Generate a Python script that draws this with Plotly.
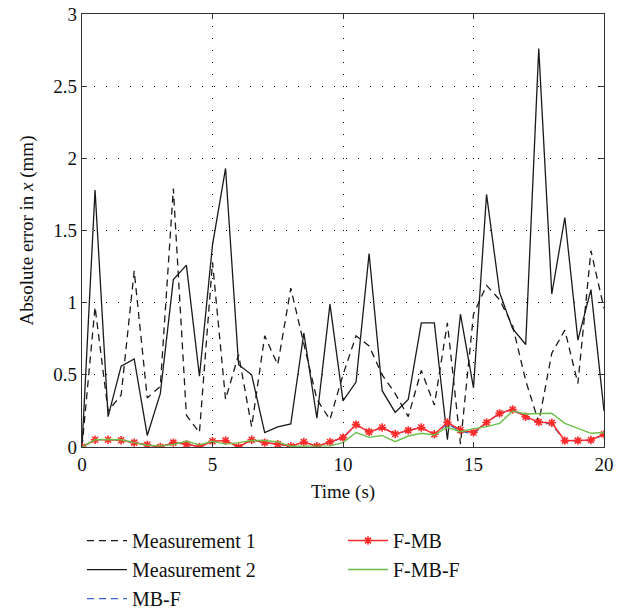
import plotly.graph_objects as go

time_s = [0, 0.5, 1, 1.5, 2, 2.5, 3, 3.5, 4, 4.5, 5, 5.5, 6, 6.5, 7, 7.5, 8, 8.5, 9, 9.5,
          10, 10.5, 11, 11.5, 12, 12.5, 13, 13.5, 14, 14.5, 15, 15.5, 16, 16.5, 17, 17.5,
          18, 18.5, 19, 19.5, 20]

measurement1 = [0, 0.97, 0.25, 0.36, 1.22, 0.34, 0.42, 1.79, 0.22, 0.10, 1.28, 0.33, 0.64, 0.14,
                0.77, 0.57, 1.10, 0.72, 0.33, 0.19, 0.50, 0.77, 0.70, 0.50, 0.37, 0.21, 0.53, 0.29,
                0.86, 0.02, 0.92, 1.12, 1.02, 0.84, 0.46, 0.17, 0.65, 0.81, 0.44, 1.36, 0.96]

measurement2 = [0, 1.78, 0.21, 0.56, 0.61, 0.08, 0.37, 1.16, 1.26, 0.49, 1.40, 1.93, 0.57, 0.50,
                0.10, 0.14, 0.16, 0.79, 0.20, 0.99, 0.32, 0.45, 1.34, 0.39, 0.24, 0.33, 0.86, 0.86,
                0.05, 0.92, 0.41, 1.75, 1.07, 0.82, 0.71, 2.76, 1.06, 1.59, 0.74, 1.09, 0.25]

f_mb = [0, 0.05, 0.05, 0.047, 0.03, 0.015, 0.0, 0.03, 0.02, 0.0, 0.04, 0.045, 0.0, 0.05,
        0.03, 0.02, 0.005, 0.035, 0.005, 0.035, 0.065, 0.155, 0.105, 0.135, 0.09, 0.115, 0.135,
        0.088, 0.17, 0.118, 0.10, 0.17, 0.233, 0.26, 0.21, 0.172, 0.168, 0.044, 0.044, 0.049, 0.088]

mb_f = [0, 0.05, 0.05, 0.047, 0.03, 0.015, 0.0, 0.03, 0.02, 0.0, 0.04, 0.045, 0.0, 0.05,
        0.03, 0.02, 0.005, 0.035, 0.005, 0.035, 0.065, 0.152, 0.105, 0.135, 0.09, 0.115, 0.135,
        0.088, 0.16, 0.11, 0.09, 0.17, 0.233, 0.26, 0.20, 0.165, 0.16, 0.04, 0.04, 0.045, 0.088]

f_mb_f = [0, 0.05, 0.052, 0.05, 0.03, 0.012, 0.008, 0.017, 0.04, 0.015, 0.04, 0.02, 0.03, 0.045,
          0.045, 0.035, 0.005, 0.005, 0.005, 0.008, 0.03, 0.10, 0.067, 0.08, 0.037, 0.076, 0.095,
          0.083, 0.137, 0.106, 0.127, 0.141, 0.164, 0.25, 0.229, 0.229, 0.234, 0.164, 0.13, 0.095, 0.10]

x_ticks = [0, 5, 10, 15, 20]
y_ticks = [0, 0.5, 1, 1.5, 2, 2.5, 3]

FONT = "Liberation Serif, Times New Roman, DejaVu Serif, serif"

fig = go.Figure()
fig.add_trace(go.Scatter(x=time_s, y=measurement1, mode="lines", name="Measurement 1",
                         line=dict(color="#1a1a1a", width=1.3, dash="7px,5px"), legend="legend"))
fig.add_trace(go.Scatter(x=time_s, y=measurement2, mode="lines", name="Measurement 2",
                         line=dict(color="#1a1a1a", width=1.3), legend="legend"))
fig.add_trace(go.Scatter(x=time_s, y=mb_f, mode="lines", name="MB-F",
                         line=dict(color="#3a5fcd", width=1.3, dash="7px,5px"), legend="legend"))
fig.add_trace(go.Scatter(x=time_s, y=f_mb, mode="lines+markers", name="F-MB",
                         line=dict(color="#ff2a2a", width=1.5),
                         marker=dict(symbol="asterisk", size=7, color="#ff2a2a",
                                     line=dict(color="#ff2a2a", width=1.6)),
                         legend="legend2"))
fig.add_trace(go.Scatter(x=time_s, y=f_mb_f, mode="lines", name="F-MB-F",
                         line=dict(color="#6cc04a", width=1.4), legend="legend2"))

axis_common = dict(
    showline=True, linecolor="#333333", linewidth=1.3, mirror="ticks",
    ticks="inside", ticklen=5, tickcolor="#333333",
    showgrid=True, gridcolor="#000000", gridwidth=1, griddash="1px,11px",
    zeroline=False, tickfont=dict(family=FONT, size=19, color="#111111"),
)

fig.update_xaxes(range=[0, 20], tickvals=x_ticks,
                 title=dict(text="Time (s)", font=dict(family=FONT, size=19, color="#111111"), standoff=10),
                 **axis_common)
fig.update_yaxes(range=[0, 3], tickvals=y_ticks, ticktext=[f"{v:g}" for v in y_ticks],
                 title=dict(text="Absolute error in <i>x</i> (mm)",
                            font=dict(family=FONT, size=19, color="#111111"), standoff=14),
                 **axis_common)

legend_font = dict(family=FONT, size=20, color="#111111")
fig.update_layout(
    width=631, height=612,
    margin=dict(l=82, r=27, t=14, b=165, autoexpand=False),
    paper_bgcolor="white", plot_bgcolor="white",
    legend=dict(x=0.0, y=-0.171, xanchor="left", yanchor="top", font=legend_font,
                bgcolor="rgba(0,0,0,0)", tracegroupgap=0, itemwidth=40),
    legend2=dict(x=0.5, y=-0.171, xanchor="left", yanchor="top", font=legend_font,
                 bgcolor="rgba(0,0,0,0)", tracegroupgap=0, itemwidth=40),
)

fig.write_html("out.html")
